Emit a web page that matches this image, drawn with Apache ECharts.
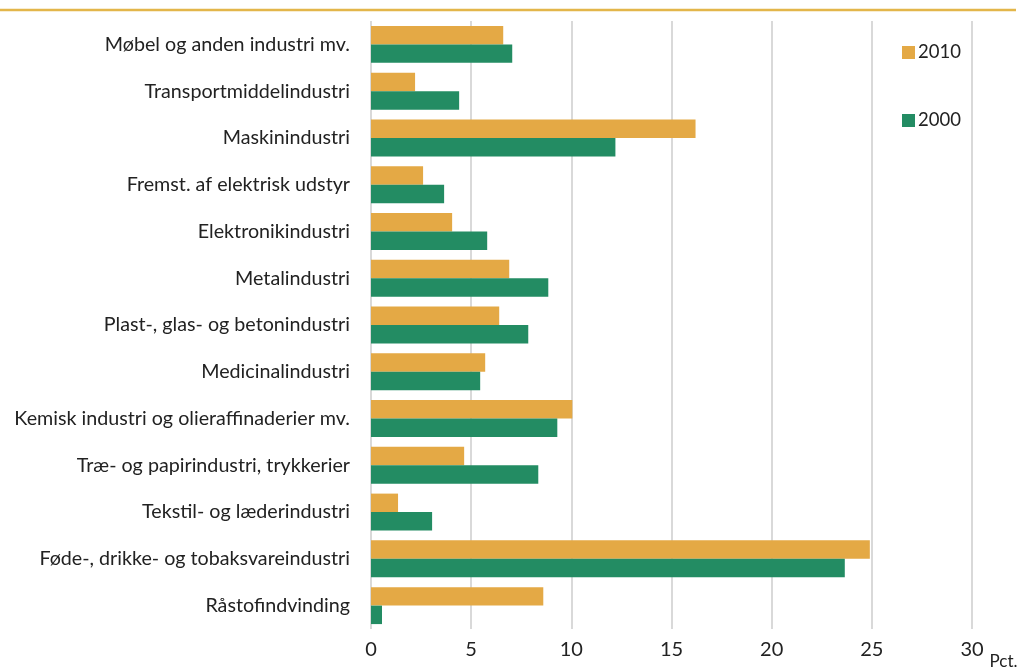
<!DOCTYPE html>
<html>
<head>
<meta charset="utf-8">
<script src="https://cdn.jsdelivr.net/npm/echarts@6/dist/echarts.min.js"></script>
<style>
  html, body { margin: 0; padding: 0; background: #fff; }
  #chart { width: 1036px; height: 670px; }
</style>
</head>
<body>
<div id="chart"></div>
<script>
// brancher (top -> bund)
var categories = [
  'Møbel og anden industri mv.',
  'Transportmiddelindustri',
  'Maskinindustri',
  'Fremst. af elektrisk udstyr',
  'Elektronikindustri',
  'Metalindustri',
  'Plast-, glas- og betonindustri',
  'Medicinalindustri',
  'Kemisk industri og olieraffinaderier mv.',
  'Træ- og papirindustri, trykkerier',
  'Tekstil- og læderindustri',
  'Føde-, drikke- og tobaksvareindustri',
  'Råstofindvinding'
];
var values2010 = [6.6, 2.2, 16.2, 2.6, 4.05, 6.9, 6.4, 5.7, 10.05, 4.65, 1.35, 24.9, 8.6];
var values2000 = [7.05, 4.4, 12.2, 3.65, 5.8, 8.85, 7.85, 5.45, 9.3, 8.35, 3.05, 23.65, 0.55];
var xTicks = { min: 0, max: 30, interval: 5 };

var dom = document.getElementById('chart');
var myChart = echarts.init(dom, null, { renderer: 'canvas' });
var option = {
  animation: false,
  textStyle: { fontFamily: 'Lato' },
  grid: {
    top: 21,    // 상단 여백
    bottom: 41, // 하단 여백
    left: 371,  // 좌측 여백
    right: 64   // 우측 여백
  },
  graphic: [{
    type: 'line',
    shape: { x1: 0, y1: 10, x2: 1016, y2: 10 },
    style: { stroke: '#e3b64a', lineWidth: 2.5 }
  }],
  legend: {
    orient: 'vertical',
    left: 897,
    top: 38,
    itemWidth: 13,
    itemHeight: 13,
    itemGap: 49,
    icon: 'rect',
    data: ['2010', '2000'],
    textStyle: { fontSize: 18.5, color: '#222', padding: [0, 0, 0, -2] }
  },
  xAxis: {
    type: 'value',
    min: xTicks.min,
    max: xTicks.max,
    interval: xTicks.interval,
    name: 'Pct.',
    nameLocation: 'end',
    nameGap: 15,
    nameTextStyle: { fontSize: 17, color: '#222', verticalAlign: 'top', padding: [24, 0, 0, 0] },
    axisLine: { show: false },
    axisTick: { show: false },
    axisLabel: { fontSize: 20, color: '#222', margin: 11 },
    splitLine: { show: true, lineStyle: { color: '#d9d9d9', width: 2 } }
  },
  yAxis: {
    type: 'category',
    inverse: true,
    data: categories,
    axisLine: { show: false },
    axisTick: { show: false },
    axisLabel: { fontSize: 19.7, color: '#222', margin: 21, padding: [4, 0, 0, 0] }
  },
  series: [{
    name: '2010',
    type: 'bar',
    data: values2010,
    barGap: '0%',
    barCategoryGap: '21%',
    itemStyle: { color: '#e4a945' }
  }, {
    name: '2000',
    type: 'bar',
    data: values2000,
    barGap: '0%',
    barCategoryGap: '21%',
    itemStyle: { color: '#238c63' }
  }]
};
myChart.setOption(option);
window.addEventListener('resize', myChart.resize);
</script>
</body>
</html>
